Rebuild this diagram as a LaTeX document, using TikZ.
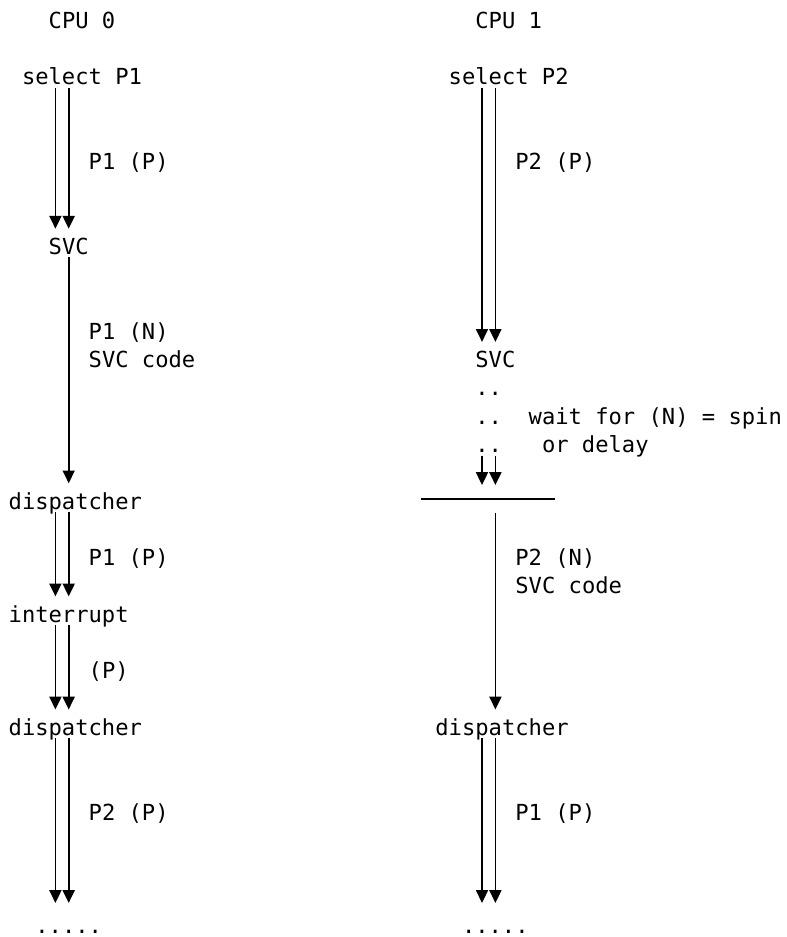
\documentclass[tikz,border=0pt]{standalone}
\usepackage{fontspec}
\newfontfamily\monofnt{DejaVu Sans Mono}
\usetikzlibrary{arrows.meta}
\begin{document}
\begin{tikzpicture}[x=0.75pt,y=-0.75pt,
  txt/.style={anchor=base west,inner sep=0pt,outer sep=0pt,text height=19.35pt,text depth=2.25pt,
    font=\monofnt\fontsize{16.6}{20}\selectfont},
  flow/.style={line width=1.25pt,-{Triangle[length=9.6pt,width=9pt]}},
  bar/.style={line width=1.1pt}]
\useasboundingbox (0,0) rectangle (786,937);
% column centres for the arrows
\coordinate (ca) at (55.4,0);
\coordinate (cb) at (68.7,0);
\coordinate (cc) at (482.0,0);
\coordinate (cd) at (495.4,0);
% CPU 0
\node[txt] (cpu0) at (48.7,28.3) {CPU 0};
\node[txt] (sel1) at (22.0,84.86) {select P1};
\node[txt] (l1) at (88.7,169.7) {P1 (P)};
\node[txt] (svc1) at (48.7,254.5) {SVC};
\node[txt] (l2) at (88.7,339.4) {P1 (N)};
\node[txt] (l3) at (88.7,367.7) {SVC code};
\node[txt] (disp1) at (8.7,509.1) {dispatcher};
\node[txt] (l4) at (88.7,565.6) {P1 (P)};
\node[txt] (intr) at (8.7,622.2) {interrupt};
\node[txt] (l5) at (88.7,678.7) {(P)};
\node[txt] (disp2) at (8.7,735.3) {dispatcher};
\node[txt] (l6) at (88.7,820.1) {P2 (P)};
\node[txt] (ldots) at (35.4,933.3) {.....};
% CPU 1
\node[txt] (cpu1) at (475.4,28.3) {CPU 1};
\node[txt] (sel2) at (448.7,84.86) {select P2};
\node[txt] (r1) at (515.4,169.7) {P2 (P)};
\node[txt] (svc2) at (475.4,367.7) {SVC};
\node[txt] (d1) at (475.4,395.9) {..};
\node[txt] (d2) at (475.4,424.2) {..};
\node[txt] (d3) at (475.4,452.5) {..};
\node[txt] (w1) at (528.7,424.2) {wait for (N) = spin};
\node[txt] (w2) at (542.0,452.5) {or delay};
\node[inner sep=0pt,outer sep=0pt,minimum width=100.5pt,minimum height=21pt] (hl) at (488,499) {};
\node[txt] (r2) at (515.4,565.6) {P2 (N)};
\node[txt] (r3) at (515.4,593.9) {SVC code};
\node[txt] (disp3) at (435.4,735.3) {dispatcher};
\node[txt] (r4) at (515.4,820.1) {P1 (P)};
\node[txt] (rdots) at (462.0,933.3) {.....};
% left connectors
\draw[flow] (sel1.south -| ca) -- (svc1.north -| ca);
\draw[flow] (sel1.south -| cb) -- (svc1.north -| cb);
\draw[flow] (svc1.south -| cb) -- (disp1.north -| cb);
\draw[flow] (disp1.south -| ca) -- (intr.north -| ca);
\draw[flow] (disp1.south -| cb) -- (intr.north -| cb);
\draw[flow] (intr.south -| ca) -- (disp2.north -| ca);
\draw[flow] (intr.south -| cb) -- (disp2.north -| cb);
\draw[flow,shorten >=3.4pt] (disp2.south -| ca) -- (ldots.north -| ca);
\draw[flow,shorten >=3.4pt] (disp2.south -| cb) -- (ldots.north -| cb);
% right connectors
\draw[flow] (sel2.south -| cc) -- (svc2.north -| cc);
\draw[flow] (sel2.south -| cd) -- (svc2.north -| cd);
\draw[flow] (d3.south -| cc) -- (hl.north -| cc);
\draw[flow] (d3.south -| cd) -- (hl.north -| cd);
\draw[bar] (hl.west) -- (hl.east);
\draw[flow] (hl.south -| cd) -- (disp3.north -| cd);
\draw[flow,shorten >=3.4pt] (disp3.south -| cc) -- (rdots.north -| cc);
\draw[flow,shorten >=3.4pt] (disp3.south -| cd) -- (rdots.north -| cd);
\end{tikzpicture}
\end{document}
